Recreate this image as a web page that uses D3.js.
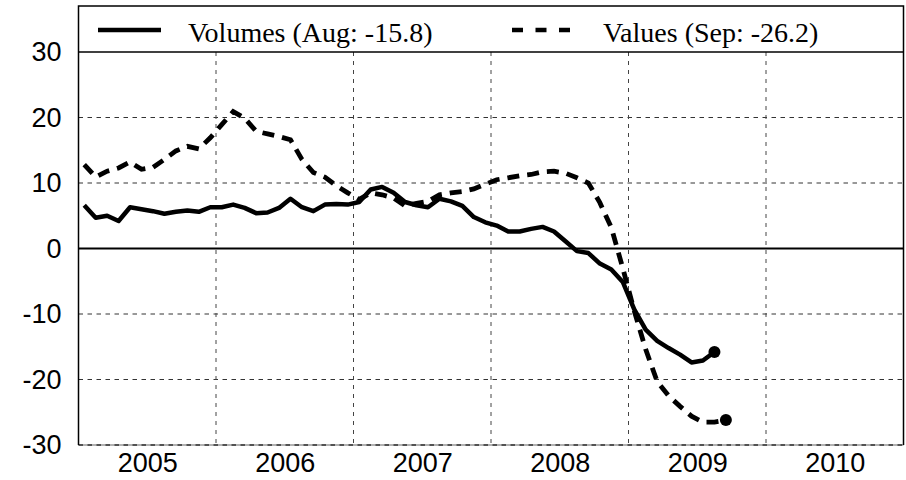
<!DOCTYPE html>
<html>
<head>
<meta charset="utf-8">
<script src="https://cdn.jsdelivr.net/npm/d3@7"></script>
<style>
  html, body { margin: 0; padding: 0; background: #fff; }
  svg { display: block; }
</style>
</head>
<body>
<svg id="chart" width="906" height="480"></svg>
<script>
// Monthly series, January 2005 onwards (% change on a year earlier)
const startYear = 2005;
const volumes = [6.6, 4.7, 5.0, 4.2, 6.3, 6.0, 5.7, 5.3, 5.6, 5.8,
                 5.6, 6.3, 6.3, 6.7, 6.2, 5.4, 5.5, 6.2, 7.6, 6.3,
                 5.7, 6.7, 6.8, 6.7, 7.1, 9.0, 9.4, 8.5, 7.1, 6.6,
                 6.3, 7.6, 7.2, 6.5, 4.8, 4.0, 3.5, 2.6, 2.6, 3.0,
                 3.3, 2.6, 1.1, -0.4, -0.7, -2.3, -3.2, -5.1, -9.3, -12.4,
                 -14.1, -15.2, -16.2, -17.4, -17.1, -15.8];
const values = [12.8, 10.9, 11.8, 12.3, 13.2, 12.1, 12.4, 13.6, 14.9, 15.6,
                15.2, 16.9, 18.9, 20.9, 19.9, 17.9, 17.5, 17.1, 16.6, 13.6,
                11.6, 10.9, 9.6, 8.5, 7.5, 8.5, 8.2, 7.7, 6.5, 6.9,
                7.2, 8.2, 8.5, 8.7, 9.1, 9.8, 10.5, 10.8, 11.1, 11.3,
                11.7, 11.8, 11.5, 10.8, 10.0, 7.0, 3.2, -3.0, -9.5, -15.4,
                -20.3, -22.5, -24.1, -25.6, -26.5, -26.5, -26.2];
const yearLabels = ["2005", "2006", "2007", "2008", "2009", "2010"];
const yTicks = [-30, -20, -10, 0, 10, 20, 30];
const legendLabels = ["Volumes (Aug: -15.8)", "Values (Sep: -26.2)"];

const svg = d3.select("#chart");
const frame = { left: 78.5, right: 903.5, top: 6, bottom: 445 };
const gridTop = 52;

const x = d3.scaleLinear().domain([2005, 2011]).range([frame.left, frame.right]);
const y = d3.scaleLinear().domain([-30, 30]).range([frame.bottom, gridTop]);

const monthPos = i => startYear + (i + 0.5) / 12;

// grid
const grid = svg.append("g");
grid.selectAll("line.h").data([-20, -10, 10, 20]).join("line")
  .attr("x1", frame.left).attr("x2", frame.right)
  .attr("y1", d => y(d)).attr("y2", d => y(d))
  .attr("stroke", "#333").attr("stroke-width", 1).attr("stroke-dasharray", "4.5,4.5");
grid.selectAll("line.v").data(d3.range(2006, 2011)).join("line")
  .attr("x1", d => x(d)).attr("x2", d => x(d))
  .attr("y1", gridTop).attr("y2", frame.bottom)
  .attr("stroke", "#444").attr("stroke-width", 1).attr("stroke-dasharray", "4,5");

// bottom edge
svg.append("line")
  .attr("x1", frame.left).attr("x2", frame.right)
  .attr("y1", y(-30)).attr("y2", y(-30))
  .attr("stroke", "#999").attr("stroke-width", 1.5);
svg.append("line")
  .attr("x1", frame.left).attr("x2", frame.right)
  .attr("y1", y(-30)).attr("y2", y(-30))
  .attr("stroke", "#333").attr("stroke-width", 1.5).attr("stroke-dasharray", "4.5,4.5");

// zero line
svg.append("line")
  .attr("x1", frame.left).attr("x2", frame.right)
  .attr("y1", y(0)).attr("y2", y(0))
  .attr("stroke", "#000").attr("stroke-width", 2.2);

// legend box separator (top of the value range)
svg.append("line")
  .attr("x1", frame.left).attr("x2", frame.right)
  .attr("y1", y(30)).attr("y2", y(30))
  .attr("stroke", "#000").attr("stroke-width", 1.5);

// frame: left, top, right
svg.append("path")
  .attr("d", `M${frame.left},${frame.bottom}V${frame.top}H${frame.right}V${frame.bottom}`)
  .attr("fill", "none").attr("stroke", "#000").attr("stroke-width", 1.5);

// y axis labels (plain hyphen for negatives)
const yAxis = d3.axisLeft(y).tickValues(yTicks).tickFormat(d => String(d))
  .tickSize(0).tickPadding(17);
svg.append("g")
  .attr("transform", `translate(${frame.left},0)`)
  .call(yAxis)
  .call(g => g.select(".domain").remove())
  .call(g => g.selectAll("text")
    .attr("font-family", "'Liberation Sans', Arial, sans-serif")
    .attr("font-size", 27).attr("fill", "#000"));

// x axis labels at mid-year
const xAxis = d3.axisBottom(x)
  .tickValues(yearLabels.map(d => +d + 0.5))
  .tickFormat((d, i) => yearLabels[i])
  .tickSize(0).tickPadding(8);
svg.append("g")
  .attr("transform", `translate(0,${frame.bottom})`)
  .call(xAxis)
  .call(g => g.select(".domain").remove())
  .call(g => g.selectAll("text")
    .attr("font-family", "'Liberation Sans', Arial, sans-serif")
    .attr("font-size", 27).attr("fill", "#000"));

// series
const line = d3.line().x((d, i) => x(monthPos(i))).y(d => y(d));
svg.append("path").datum(values)
  .attr("d", line).attr("fill", "none").attr("stroke", "#000")
  .attr("stroke-width", 4.8).attr("stroke-dasharray", "12,8");
svg.append("path").datum(volumes)
  .attr("d", line).attr("fill", "none").attr("stroke", "#000")
  .attr("stroke-width", 4.5).attr("stroke-linejoin", "round");

// latest-observation markers
[volumes, values].forEach(s => {
  const i = s.length - 1;
  svg.append("circle")
    .attr("cx", x(monthPos(i))).attr("cy", y(s[i])).attr("r", 6)
    .attr("fill", "#000");
});

// legend
const legY = 30;
svg.append("line").attr("x1", 98).attr("x2", 161).attr("y1", legY).attr("y2", legY)
  .attr("stroke", "#000").attr("stroke-width", 4.5);
svg.append("line").attr("x1", 512).attr("x2", 570).attr("y1", legY).attr("y2", legY)
  .attr("stroke", "#000").attr("stroke-width", 4.5).attr("stroke-dasharray", "11,12.5");
svg.selectAll("text.leg").data(legendLabels).join("text")
  .attr("class", "leg")
  .attr("x", (d, i) => i === 0 ? 188 : 603)
  .attr("y", 42)
  .attr("font-family", "'Liberation Serif', 'Times New Roman', serif")
  .attr("font-size", 28)
  .attr("fill", "#000")
  .text(d => d);
</script>
</body>
</html>
